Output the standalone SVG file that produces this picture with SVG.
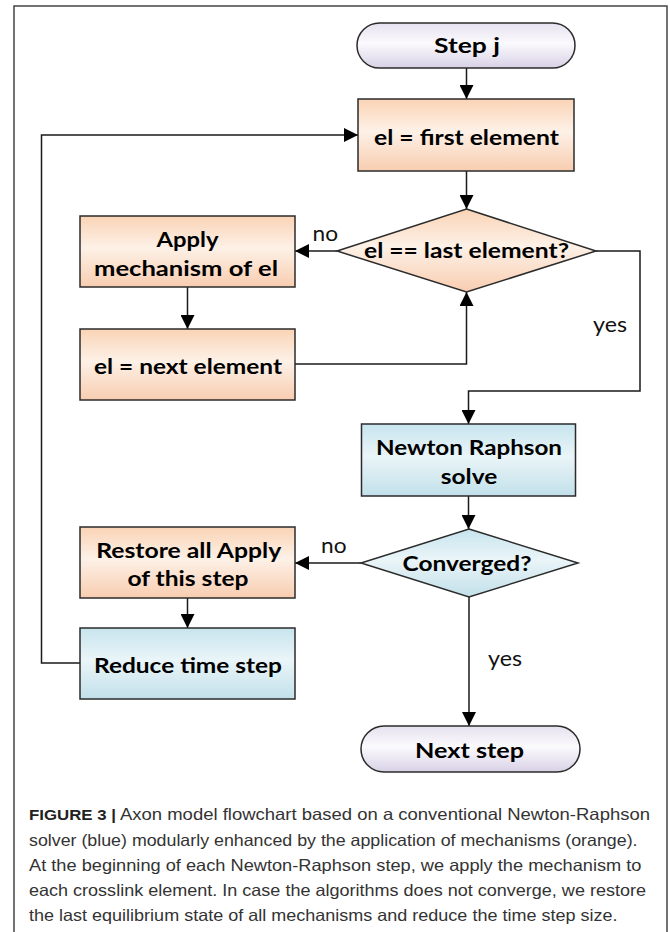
<svg xmlns="http://www.w3.org/2000/svg" width="670" height="932" viewBox="0 0 670 932">
<style>
.box{stroke:#2b2b2b;stroke-width:1.5}
.or{fill:url(#gOr)}
.bl{fill:url(#gBl)}
.lv{fill:url(#gLv)}
.t{font-family:Lato,"Liberation Sans",sans-serif;font-weight:bold;font-size:21px;fill:#000;text-anchor:middle}
.lab{font-family:Lato,"Liberation Sans",sans-serif;font-size:21px;fill:#111}
.cap{font-family:"Liberation Sans",Arial,sans-serif;font-size:16.5px;fill:#333}
.capb{font-weight:bold;fill:#222;font-size:15px}
.con{fill:none;stroke:#1a1a1a;stroke-width:1.5}
</style>
<defs>
<linearGradient id="gOr" x1="0" y1="0" x2="0" y2="1">
<stop offset="0" stop-color="#fad3b5"/><stop offset="0.45" stop-color="#fdf1e7"/><stop offset="1" stop-color="#f8cdb0"/>
</linearGradient>
<linearGradient id="gBl" x1="0" y1="0" x2="0" y2="1">
<stop offset="0" stop-color="#c7e4ee"/><stop offset="0.45" stop-color="#eaf5f8"/><stop offset="1" stop-color="#c2e0ea"/>
</linearGradient>
<linearGradient id="gLv" x1="0" y1="0" x2="0" y2="1">
<stop offset="0" stop-color="#e6e1ef"/><stop offset="0.45" stop-color="#fbfafd"/><stop offset="1" stop-color="#d8d1e6"/>
</linearGradient>
<marker id="ah" markerUnits="userSpaceOnUse" markerWidth="14" markerHeight="14" refX="14" refY="7" orient="auto">
<path d="M0,0 L14,7 L0,14 z" fill="#000"/>
</marker>
</defs>
<rect x="0" y="0" width="670" height="932" fill="#fff"/>
<rect id="frame" x="14" y="6" width="653" height="940" fill="none" stroke="#444" stroke-width="1.5"/>

<g id="connectors">
<path class="con" d="M466.5,68 V99" marker-end="url(#ah)"/>
<path class="con" d="M466.5,171 V209" marker-end="url(#ah)"/>
<path class="con" d="M337,251 H295" marker-end="url(#ah)"/>
<path class="con" d="M187.5,287 V329" marker-end="url(#ah)"/>
<path class="con" d="M295,364 H466.5 V292" marker-end="url(#ah)"/>
<path class="con" d="M596,251 H640 V391 H468.5 V424" marker-end="url(#ah)"/>
<path class="con" d="M468.5,496 V529" marker-end="url(#ah)"/>
<path class="con" d="M361,563 H295" marker-end="url(#ah)"/>
<path class="con" d="M187.5,598 V628" marker-end="url(#ah)"/>
<path class="con" d="M80,663 H41.5 V135 H358" marker-end="url(#ah)"/>
<path class="con" d="M469,597 V726" marker-end="url(#ah)"/>
<text class="lab" x="312.5" y="241" textLength="25.5" lengthAdjust="spacingAndGlyphs">no</text>
<text class="lab" x="593" y="332" textLength="34" lengthAdjust="spacingAndGlyphs">yes</text>
<text class="lab" x="321" y="553" textLength="25.5" lengthAdjust="spacingAndGlyphs">no</text>
<text class="lab" x="488" y="666" textLength="34" lengthAdjust="spacingAndGlyphs">yes</text>
</g>

<g id="stepj">
<rect class="box lv" x="357" y="23" width="218" height="45" rx="22.5"/>
<text class="t" x="467" y="53" textLength="66" lengthAdjust="spacingAndGlyphs">Step j</text>
</g>
<g id="first">
<rect class="box or" x="358" y="99" width="216" height="72"/>
<text class="t" x="466.5" y="145" textLength="185" lengthAdjust="spacingAndGlyphs">el = first element</text>
</g>
<g id="last">
<polygon class="box or" points="466.5,209 596,251 466.5,292 337,251"/>
<text class="t" x="466.5" y="258" textLength="205" lengthAdjust="spacingAndGlyphs">el == last element?</text>
</g>
<g id="apply">
<rect class="box or" x="80" y="216" width="215" height="71"/>
<text class="t" x="187.5" y="247" textLength="62" lengthAdjust="spacingAndGlyphs">Apply</text>
<text class="t" x="186" y="276" textLength="184" lengthAdjust="spacingAndGlyphs">mechanism of el</text>
</g>
<g id="next">
<rect class="box or" x="80" y="329" width="215" height="71"/>
<text class="t" x="188" y="374" textLength="188" lengthAdjust="spacingAndGlyphs">el = next element</text>
</g>
<g id="newton">
<rect class="box bl" x="361.5" y="424" width="214" height="72"/>
<text class="t" x="469" y="455" textLength="186" lengthAdjust="spacingAndGlyphs">Newton Raphson</text>
<text class="t" x="469" y="484" textLength="56.5" lengthAdjust="spacingAndGlyphs">solve</text>
</g>
<g id="converged">
<polygon class="box bl" points="469,529 578,563 469,597 361,563"/>
<text class="t" x="467" y="571" textLength="129" lengthAdjust="spacingAndGlyphs">Converged?</text>
</g>
<g id="restore">
<rect class="box or" x="80" y="527" width="215" height="71"/>
<text class="t" x="188.7" y="558" textLength="185" lengthAdjust="spacingAndGlyphs">Restore all Apply</text>
<text class="t" x="188" y="586" textLength="121" lengthAdjust="spacingAndGlyphs">of this step</text>
</g>
<g id="reduce">
<rect class="box bl" x="80" y="628" width="215" height="71"/>
<text class="t" x="188" y="673" textLength="188" lengthAdjust="spacingAndGlyphs">Reduce time step</text>
</g>
<g id="nextstep">
<rect class="box lv" x="361" y="726" width="219" height="46" rx="23"/>
<text class="t" x="469.5" y="758" textLength="109" lengthAdjust="spacingAndGlyphs">Next step</text>
</g>

<g id="caption">
<text class="cap" x="29" y="820" textLength="621" lengthAdjust="spacingAndGlyphs"><tspan class="capb">FIGURE 3 |</tspan> Axon model flowchart based on a conventional Newton-Raphson</text>
<text class="cap" x="29" y="846" textLength="608.5" lengthAdjust="spacingAndGlyphs">solver (blue) modularly enhanced by the application of mechanisms (orange).</text>
<text class="cap" x="29" y="871" textLength="612.5" lengthAdjust="spacingAndGlyphs">At the beginning of each Newton-Raphson step, we apply the mechanism to</text>
<text class="cap" x="29" y="896" textLength="617" lengthAdjust="spacingAndGlyphs">each crosslink element. In case the algorithms does not converge, we restore</text>
<text class="cap" x="29" y="921" textLength="588.5" lengthAdjust="spacingAndGlyphs">the last equilibrium state of all mechanisms and reduce the time step size.</text>
</g>
</svg>
